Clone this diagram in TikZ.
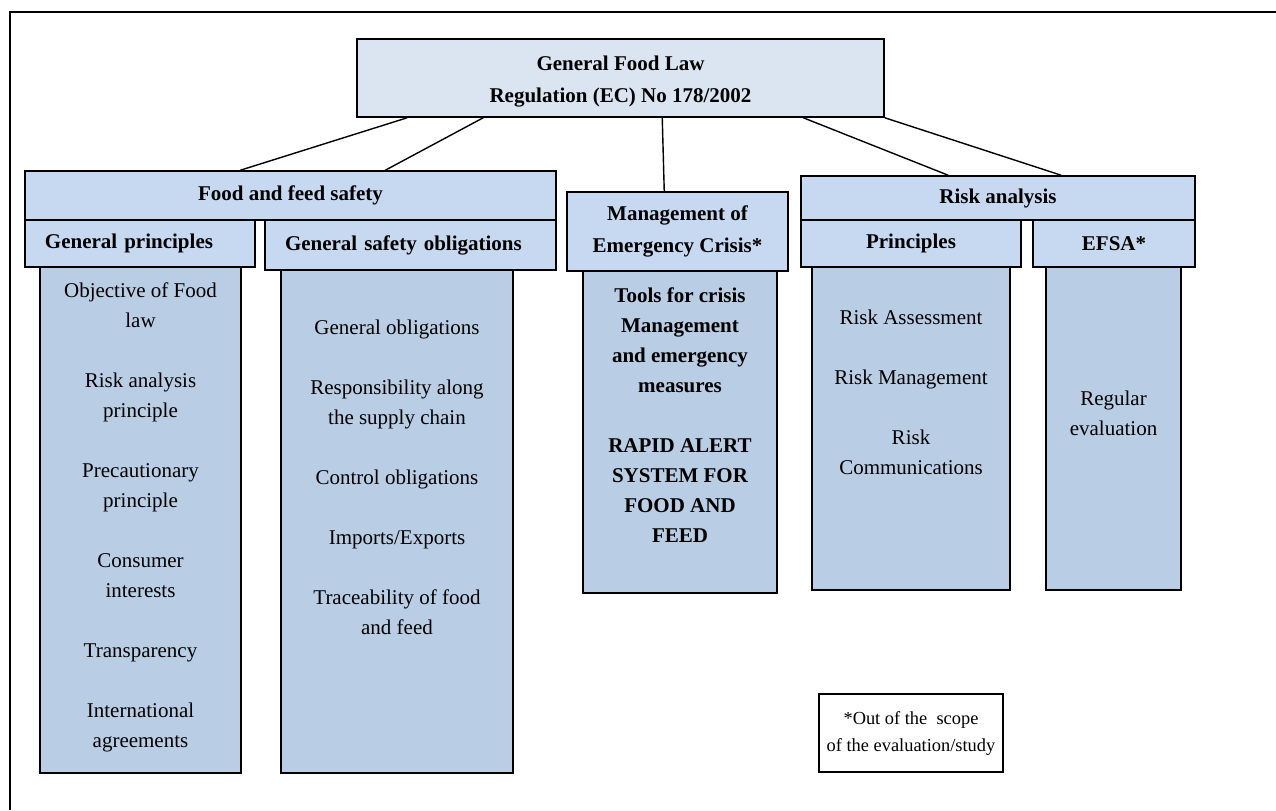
\documentclass[tikz,border=0pt]{standalone}
\usepackage{fontspec}
\setmainfont{Liberation Serif}
\usetikzlibrary{positioning}
\definecolor{lawfill}{HTML}{DBE5F1}
\definecolor{headfill}{HTML}{C6D9F1}
\definecolor{bodyfill}{HTML}{B9CDE5}

\begin{document}
\begin{tikzpicture} [
    x=0.5pt, y=-0.5pt,
    law/.style = {draw, line width=0.75pt, fill=lawfill, align=center, font=\bfseries\fontsize{10.5}{16}\selectfont},
    head/.style = {draw, line width=0.75pt, fill=headfill, align=center, font=\bfseries\fontsize{10.5}{16}\selectfont},
    lefthead/.style = {head, align=left, inner xsep=10pt},
    body/.style = {draw, line width=0.75pt, fill=bodyfill},
    item/.style = {align=center, inner sep=0pt, font=\fontsize{10.5}{15}\selectfont},
    note/.style = {draw, line width=0.75pt, fill=white, align=center, font=\fontsize{9.2}{13.5}\selectfont},
    link/.style = {line width=0.7pt}
    ]
    \useasboundingbox (0,0) rectangle (1276,810);
    \draw[line width=1pt] (10,810) -- (10,12) -- (1276,12);

    % regulation
    \node[law, minimum width=263.5pt, minimum height=39pt] (law) at (620.5,78) {\rule{0pt}{11pt}General Food Law\\Regulation (EC) No 178/2002};

    % food and feed safety
    \node[head, minimum width=265.5pt, minimum height=24.5pt] (food) at (290.5,195.5) {Food and feed safety};
    \node[body, minimum width=100.5pt, minimum height=253pt] (gpbody) at (140.5,520) {};
    \node[body, minimum width=116pt, minimum height=251.5pt] (gsbody) at (397,521.5) {};
    \node[lefthead, text width=95pt, minimum height=23.5pt] (gphead) at (140,243.5) {General principles};
    \node[lefthead, text width=125.5pt, minimum height=25pt] (gshead) at (410.5,245) {General safety obligations};
    \node[item, below=8pt of gpbody.north] (gpitems) {Objective of Food\\law\\[15pt]Risk analysis\\principle\\[15pt]Precautionary\\principle\\[15pt]Consumer\\interests\\[15pt]Transparency\\[15pt]International\\agreements};
    \node[item, below=25pt of gsbody.north] (gsitems) {General obligations\\[15pt]Responsibility along\\the supply chain\\[15pt]Control obligations\\[15pt]Imports/Exports\\[15pt]Traceability of food\\and feed};

    % emergency
    \node[body, minimum width=97pt, minimum height=161pt] (tools) at (680,432) {};
    \node[head, minimum width=110.5pt, minimum height=39.5pt] (crisis) at (677.5,231.5) {Management of\\Emergency Crisis*};
    \node[item, font=\bfseries\fontsize{10.5}{15}\selectfont, below=8.5pt of tools.north] (toolitems) {Tools for crisis\\Management\\and emergency\\measures\\[15pt]RAPID ALERT\\SYSTEM FOR\\FOOD AND\\FEED};

    % risk analysis
    \node[head, minimum width=197pt, minimum height=22pt] (risk) at (998,198) {Risk analysis};
    \node[body, minimum width=99pt, minimum height=161.5pt] (prbody) at (911,428.5) {};
    \node[body, minimum width=67.5pt, minimum height=161.5pt] (efsabody) at (1113.5,428.5) {};
    \node[head, minimum width=110pt, minimum height=23.5pt] (prhead) at (911,243.5) {Principles};
    \node[head, minimum width=81pt, minimum height=23.5pt] (efsahead) at (1114,243.5) {EFSA*};
    \node[item, below=21.5pt of prbody.north] (pritems) {Risk Assessment\\[15pt]Risk Management\\[15pt]Risk\\Communications};
    \node[item, below=62pt of efsabody.north] (efsaitems) {Regular\\evaluation};

    \node[note, minimum width=92pt, minimum height=39pt] (note) at (911,733) {*Out of the\ \ scope\\of the evaluation/study};

    \draw[link] ([xshift=25.5pt]law.south west) -- ([xshift=108pt]food.north west);
    \draw[link] ([xshift=63.5pt]law.south west) -- ([xshift=180.5pt]food.north west);
    \draw[link] ([xshift=153pt]law.south west) -- ([xshift=49pt]crisis.north west);
    \draw[link] ([xshift=223.5pt]law.south west) -- ([xshift=74pt]risk.north west);
    \draw[link] (law.south east) -- ([xshift=130.5pt]risk.north west);
\end{tikzpicture}
\end{document}
